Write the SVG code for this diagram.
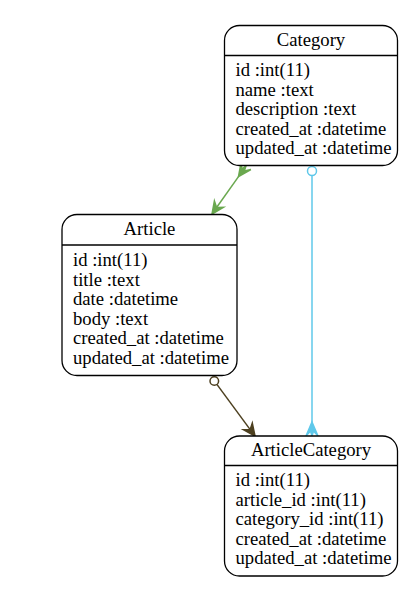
<svg xmlns="http://www.w3.org/2000/svg" width="410" height="599" viewBox="0 0 410 599">
<style>
.box{fill:#fff;stroke:#000;stroke-width:1.3}
.div{stroke:#000;stroke-width:1.3}
.txt text{font-family:"Liberation Serif","Times New Roman",serif;font-size:18.67px;fill:#000}
.t{text-anchor:middle}
.edge{stroke-width:1.5}
</style>
<rect width="410" height="599" fill="#fff"/>
<g id="connectors">
  <g id="e-category-article" class="edge" stroke="#6aa84f" fill="#6aa84f">
    <line x1="238.5" y1="176.6" x2="216.6" y2="207.5"/>
    <polygon points="238.5,176.6 250.9,169.5 244.3,171 246,166 241.9,169.2 241.1,162.5"/>
    <polygon points="212,214 223.4,207.4 216.6,207.5 214.4,201"/>
  </g>
  <g id="e-article-articlecategory" class="edge" stroke="#4d4020">
    <circle cx="214.3" cy="381" r="4.3" fill="none"/>
    <line x1="216.9" y1="384.4" x2="250.2" y2="429.6"/>
    <polygon points="255,436 252.3,423.1 250.2,429.6 243.5,429.7" fill="#4d4020"/>
  </g>
  <g id="e-category-articlecategory" class="edge" stroke="#5fc8ea">
    <circle cx="312" cy="171" r="4.5" fill="none"/>
    <line x1="312" y1="175.5" x2="312" y2="422"/>
    <polygon points="312,422 318,436 313.5,431 312,436 310.5,431 306,436" fill="#5fc8ea"/>
  </g>
</g>
<g id="Category" class="txt">
  <rect class="box" x="224.5" y="25.5" width="173" height="140" rx="15"/>
  <line class="div" x1="224.5" y1="55.5" x2="397.5" y2="55.5"/>
  <text class="t" x="311" y="45.5">Category</text>
  <text x="235.5" y="76">id :int(11)</text>
  <text x="235.5" y="95.5">name :text</text>
  <text x="235.5" y="115">description :text</text>
  <text x="235.5" y="134.5">created_at :datetime</text>
  <text x="235.5" y="154">updated_at :datetime</text>
</g>
<g id="Article" class="txt">
  <rect class="box" x="62" y="214.5" width="175" height="161" rx="15"/>
  <line class="div" x1="62" y1="245" x2="237" y2="245"/>
  <text class="t" x="149.5" y="234.5">Article</text>
  <text x="73" y="266">id :int(11)</text>
  <text x="73" y="285.5">title :text</text>
  <text x="73" y="305">date :datetime</text>
  <text x="73" y="324.5">body :text</text>
  <text x="73" y="344">created_at :datetime</text>
  <text x="73" y="363.5">updated_at :datetime</text>
</g>
<g id="ArticleCategory" class="txt">
  <rect class="box" x="224.5" y="436" width="173" height="140" rx="15"/>
  <line class="div" x1="224.5" y1="465.5" x2="397.5" y2="465.5"/>
  <text class="t" x="311" y="456">ArticleCategory</text>
  <text x="235.5" y="486">id :int(11)</text>
  <text x="235.5" y="505.5">article_id :int(11)</text>
  <text x="235.5" y="525">category_id :int(11)</text>
  <text x="235.5" y="544.5">created_at :datetime</text>
  <text x="235.5" y="564">updated_at :datetime</text>
</g>
</svg>
